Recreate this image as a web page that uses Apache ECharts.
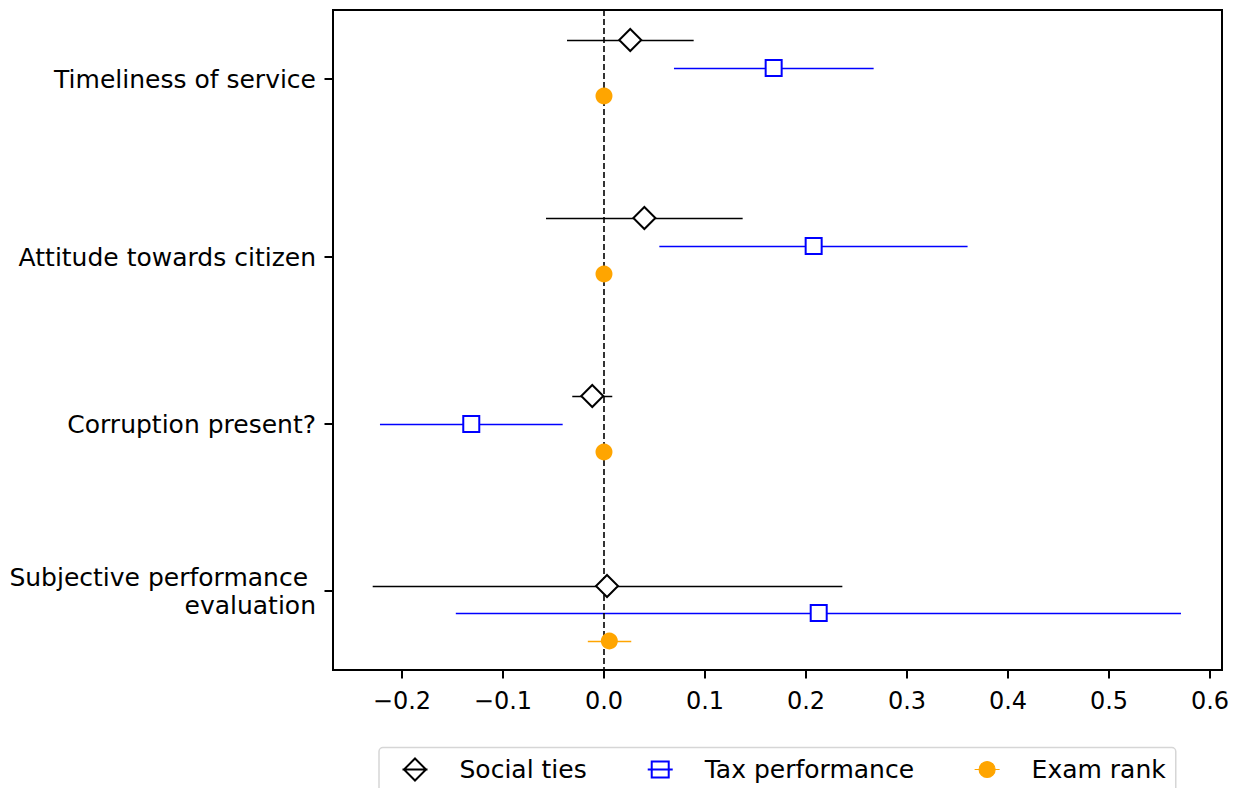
<!DOCTYPE html>
<html><head><meta charset="utf-8">
<script src="https://cdn.jsdelivr.net/npm/echarts@6/dist/echarts.min.js"></script>
<style>html,body{margin:0;padding:0;background:#fff}#c{width:1239px;height:788px}</style>
</head><body><div id="c"></div>
<script>
const categories = ['Timeliness of service', 'Attitude towards citizen', 'Corruption present?', 'Subjective performance \nevaluation'];
const categoryPos = [6.9, 24.7, 41.4, 58.1];
const xTicks = [-0.2, -0.1, 0, 0.1, 0.2, 0.3, 0.4, 0.5, 0.6];

const socialEst  = [0.026, 0.040, -0.0116, 0.003];
const socialLow  = [-0.0366, -0.0574, -0.0314, -0.229];
const socialHigh = [0.0888, 0.1373, 0.0082, 0.236];
const socialPos  = [3.0, 20.8, 38.6, 57.6];

const taxEst  = [0.168, 0.2076, -0.1314, 0.2126];
const taxLow  = [0.0693, 0.0548, -0.2218, -0.1467];
const taxHigh = [0.267, 0.360, -0.0409, 0.5713];
const taxPos  = [5.8, 23.6, 41.4, 60.3];

const examEst  = [0.0, 0.0, 0.0, 0.0053];
const examLow  = [-0.001, -0.001, -0.001, -0.016];
const examHigh = [0.001, 0.001, 0.001, 0.027];
const examPos  = [8.6, 26.4, 44.2, 63.1];

const FONT = 'DejaVu Sans';

function ciSeries(name, low, high, pos, color, width) {
  return {
    type: 'custom', name: name, z: 3, silent: true,
    data: low.map((l, i) => [l, high[i], pos[i]]),
    encode: { x: [0, 1], y: 2 },
    renderItem: (params, api) => {
      const a = api.coord([api.value(0), api.value(2)]);
      const b = api.coord([api.value(1), api.value(2)]);
      const y = Math.round(a[1] - 0.5) + 0.5;
      return { type: 'line', shape: { x1: a[0], y1: y, x2: b[0], y2: y },
               style: { stroke: color, lineWidth: width, opacity: 1 } };
    }
  };
}

const chart = echarts.init(document.getElementById('c'), null, { renderer: 'svg' });
chart.setOption({
  animation: false,
  backgroundColor: '#fff',
  grid: { left: 333, right: 17, top: 10, bottom: 118, show: true, borderColor: '#000', borderWidth: 2, backgroundColor: 'transparent' },
  xAxis: {
    type: 'value', min: -0.2683, max: 0.6119, position: 'bottom',
    splitLine: { show: false }, axisLine: { show: false, onZero: false },
    axisTick: { show: true, inside: false, customValues: xTicks, length: 8.5, lineStyle: { color: '#000', width: 2 } },
    axisLabel: { customValues: xTicks, color: '#000', fontFamily: FONT, fontSize: 24, margin: 19,
      formatter: v => (v < -1e-9 ? '\u2212' : '') + Math.abs(v).toFixed(1) }
  },
  yAxis: {
    type: 'value', inverse: true, min: 0, max: 66, position: 'left',
    splitLine: { show: false }, axisLine: { show: false, onZero: false },
    axisTick: { show: true, inside: false, customValues: categoryPos, length: 8.5, lineStyle: { color: '#000', width: 2 } },
    axisLabel: { customValues: categoryPos, color: '#000', fontFamily: FONT, fontSize: 25, margin: 17, lineHeight: 28, align: 'right',
      formatter: v => { const i = categoryPos.findIndex(p => Math.abs(p - v) < 1e-6); return i >= 0 ? categories[i] : ''; } }
  },
  legend: {
    left: 379, top: 747.5, orient: 'horizontal',
    padding: [9.5, 10, 40, 22.5], itemGap: 60, itemWidth: 25, itemHeight: 22,
    backgroundColor: '#fff', borderColor: '#d6d6d6', borderWidth: 1.5, borderRadius: 4,
    textStyle: { color: '#000', fontFamily: FONT, fontSize: 25, lineHeight: 22, padding: [0, 0, 0, 27] },
    data: [
      { name: 'Social ties', icon: 'path://M12.5,0 L23.5,11 L12.5,22 L1.5,11 Z M0,11 L25,11',
        itemStyle: { color: '#fff', borderColor: '#000', borderWidth: 2, opacity: 1 } },
      { name: 'Tax performance', icon: 'path://M0,11 L4,11 M21,11 L25,11 M4,3 L21,3 L21,19 L4,19 Z M4,11 L21,11',
        itemStyle: { color: '#fff', borderColor: '#0000ff', borderWidth: 2, opacity: 1 } },
      { name: 'Exam rank', icon: 'path://M0,11 L25,11 M4.5,11 A8,8 0 1,1 20.5,11 A8,8 0 1,1 4.5,11 Z',
        itemStyle: { color: '#ffa500', borderColor: '#ffa500', borderWidth: 1.2, opacity: 1 } }
    ]
  },
  series: [
    { type: 'line', name: 'zero', data: [], z: 1, silent: true,
      markLine: { silent: true, symbol: 'none', label: { show: false },
        lineStyle: { color: '#000', type: [6, 3], width: 1.6, opacity: 1 }, data: [{ xAxis: 0 }] } },
    ciSeries('Social ties CI', socialLow, socialHigh, socialPos, '#000', 1.3),
    ciSeries('Tax performance CI', taxLow, taxHigh, taxPos, '#0000ff', 1.4),
    ciSeries('Exam rank CI', examLow, examHigh, examPos, '#ffa500', 1.3),
    { type: 'scatter', name: 'Social ties', z: 5, symbol: 'diamond', symbolSize: [22, 22],
      itemStyle: { color: '#fff', borderColor: '#000', borderWidth: 2, opacity: 1 },
      data: socialEst.map((v, i) => [v, socialPos[i]]) },
    { type: 'scatter', name: 'Tax performance', z: 5, symbol: 'rect', symbolSize: 16,
      itemStyle: { color: '#fff', borderColor: '#0000ff', borderWidth: 2, opacity: 1 },
      data: taxEst.map((v, i) => [v, taxPos[i]]) },
    { type: 'scatter', name: 'Exam rank', z: 5, symbol: 'circle', symbolSize: 17,
      itemStyle: { color: '#ffa500', opacity: 1 },
      data: examEst.map((v, i) => [v, examPos[i]]) }
  ]
});
</script></body></html>
